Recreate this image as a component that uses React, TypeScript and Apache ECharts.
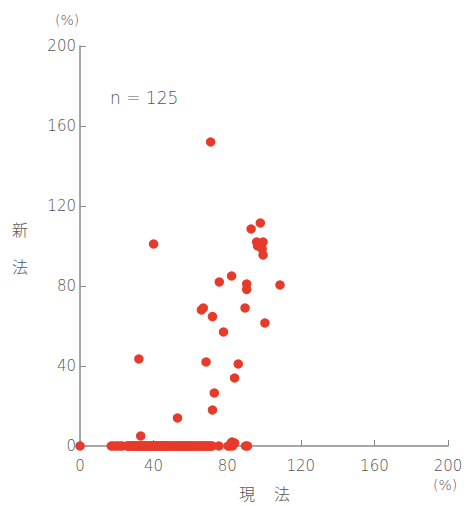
import React, { useEffect, useRef } from "react";
import * as echarts from "echarts";

const xTicks = [0, 40, 80, 120, 160, 200];
const yTicks = [0, 40, 80, 120, 160, 200];

const nonZeroPoints: [number, number][] = [
  [71, 152], [40, 101], [32, 43.5], [33, 5], [53, 14], [75.7, 82], [82.4, 85],
  [66, 68], [67, 69], [72, 64.7], [68.5, 42], [78, 57], [86, 41], [84, 34],
  [73, 26.5], [72, 18], [90.6, 81], [90.6, 78.3], [89.7, 69], [93, 108.5],
  [98, 111.5], [96, 102], [99.5, 102], [96.5, 100], [99, 98.5], [99.5, 95.5],
  [100.5, 61.5], [108.7, 80.5], [82.6, 2], [84, 1.5],
];

const zeroXs: number[] = [
  0, 17, 18, 19.5, 20.5, 22, 23, 25.5, 26, 27, 27.5, 28, 28.5, 29, 29.5, 30,
  30.5, 31, 31.5, 32, 32.5, 33, 33.5, 34, 34.5, 35, 35.5, 36, 36.5, 37, 37.5,
  38, 38.5, 39, 39.5, 40, 40.5, 41, 41.5, 42, 42.5, 43, 43.5, 44, 44.5, 45,
  45.5, 46, 46.5, 47, 47.5, 48, 48.5, 49, 50, 50.5, 51, 52, 52.5, 53, 53.5, 54,
  55, 55.5, 56, 57, 57.5, 58, 58.5, 59, 60, 60.5, 61, 62, 62.5, 63, 64, 64.5,
  65, 66, 66.5, 67, 68, 68.5, 69, 70, 70.5, 71, 72, 75.5, 80.5, 81.5, 83, 90, 91,
];

const sampleLabel = "n = 125";

export default function App() {
  const ref = useRef<HTMLDivElement>(null);
  useEffect(() => {
    if (!ref.current) return;
    const chart = echarts.init(ref.current, undefined, { renderer: "svg" });
    const font = "'DejaVu Sans', 'Noto Sans CJK JP', sans-serif";
    const cjk = "'Noto Sans CJK JP', sans-serif";
    const grey = "#555555";
    const axisGrey = "#8a8a8a";
    const data = [
      ...zeroXs.map((x) => [x, 0]),
      ...nonZeroPoints,
    ];
    chart.setOption({
      animation: false,
      backgroundColor: "#fff",
      grid: { left: 80, right: 18, top: 46, bottom: 60 },
      xAxis: {
        type: "value",
        min: 0,
        max: 200,
        interval: 40,
        splitLine: { show: false },
        axisLine: { lineStyle: { color: axisGrey, width: 1.5 } },
        axisTick: { inside: true, length: 6, lineStyle: { color: axisGrey } },
        axisLabel: {
          color: grey,
          fontSize: 15,
          fontFamily: font,
          fontWeight: 200,
          margin: 12,
          formatter: (v: number) => (xTicks.includes(v) ? String(v) : ""),
        },
      },
      yAxis: {
        type: "value",
        min: 0,
        max: 200,
        interval: 40,
        splitLine: { show: false },
        axisLine: { show: true, lineStyle: { color: axisGrey, width: 1.5 } },
        axisTick: { show: true, inside: true, length: 6, lineStyle: { color: axisGrey } },
        axisLabel: {
          color: grey,
          fontSize: 15,
          fontFamily: font,
          fontWeight: 200,
          margin: 4,
          formatter: (v: number) => (yTicks.includes(v) ? String(v) : ""),
        },
      },
      graphic: [
        { type: "text", left: 55, top: 13, style: { text: "(%)", fill: grey, font: `200 14px ${font}` } },
        { type: "text", left: 433, top: 478, style: { text: "(%)", fill: grey, font: `200 14px ${font}` } },
        { type: "text", left: 110, top: 89, style: { text: sampleLabel, fill: grey, font: `200 17px ${font}` } },
        { type: "text", left: 12, top: 221, style: { text: "新", fill: grey, font: `300 16px ${cjk}` } },
        { type: "text", left: 12, top: 258, style: { text: "法", fill: grey, font: `300 16px ${cjk}` } },
        { type: "text", left: 239, top: 485, style: { text: "現", fill: grey, font: `300 16px ${cjk}` } },
        { type: "text", left: 274, top: 485, style: { text: "法", fill: grey, font: `300 16px ${cjk}` } },
      ],
      series: [
        {
          type: "scatter",
          data,
          symbolSize: 9.5,
          itemStyle: { color: "#e63b2b", opacity: 1 },
        },
      ],
    });
    return () => chart.dispose();
  }, []);
  return (
    <div
      ref={ref}
      style={{ position: "absolute", left: 0, top: 0, width: 466, height: 506 }}
    />
  );
}
